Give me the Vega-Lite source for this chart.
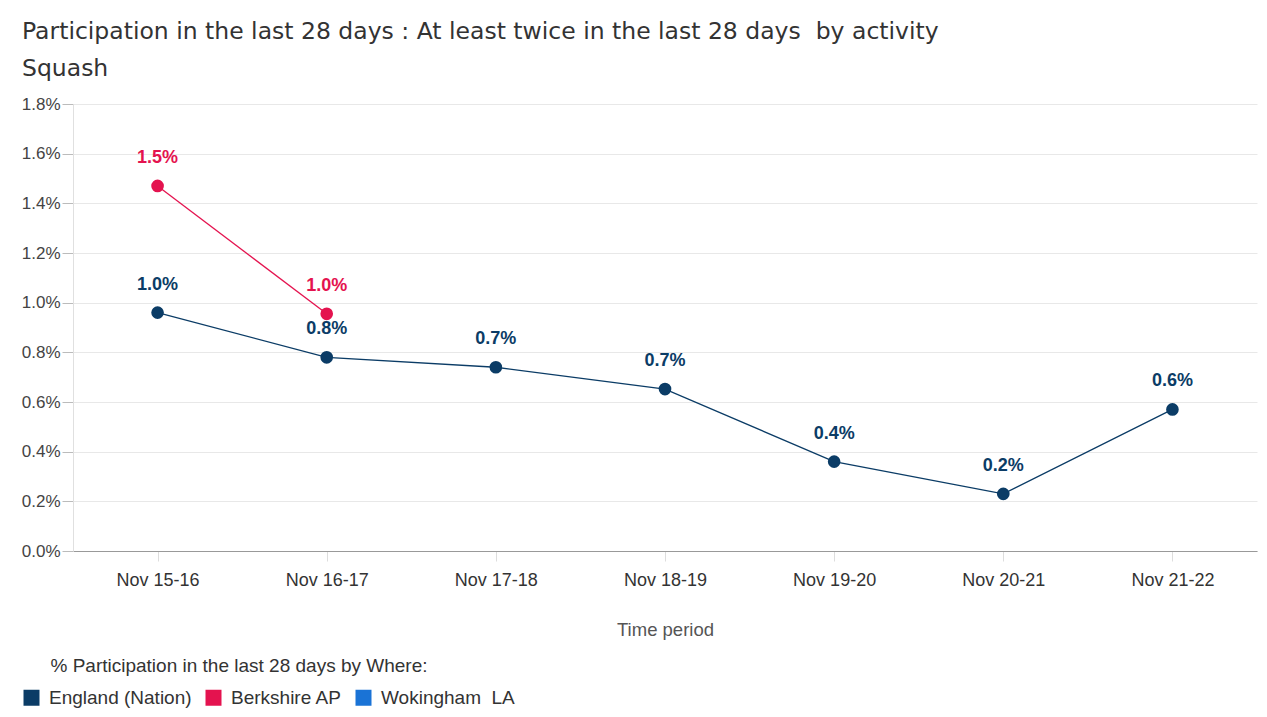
{
  "$schema": "https://vega.github.io/schema/vega-lite/v6.json",
  "autosize": {"type": "none"},
  "width": 1184,
  "height": 447,
  "padding": {"left": 73, "top": 104, "right": 10, "bottom": 166},
  "background": "white",
  "title": {
    "text": ["Participation in the last 28 days : At least twice in the last 28 days \u00a0by activity", "Squash"],
    "anchor": "start",
    "frame": "group",
    "dx": -51,
    "offset": 15,
    "font": "DejaVu Sans",
    "fontSize": 23.5,
    "fontWeight": "normal",
    "color": "#333333",
    "lineHeight": 37,
    "limit": 1200
  },
  "data": {
    "values": [
      {"period": "Nov 15-16", "where": "England (Nation)", "value": 0.0096},
      {"period": "Nov 16-17", "where": "England (Nation)", "value": 0.0078},
      {"period": "Nov 17-18", "where": "England (Nation)", "value": 0.0074},
      {"period": "Nov 18-19", "where": "England (Nation)", "value": 0.00652},
      {"period": "Nov 19-20", "where": "England (Nation)", "value": 0.0036},
      {"period": "Nov 20-21", "where": "England (Nation)", "value": 0.0023},
      {"period": "Nov 21-22", "where": "England (Nation)", "value": 0.0057},
      {"period": "Nov 15-16", "where": "Berkshire AP", "value": 0.0147},
      {"period": "Nov 16-17", "where": "Berkshire AP", "value": 0.00955}
    ]
  },
  "encoding": {
    "x": {
      "field": "period",
      "type": "ordinal",
      "title": "Time period",
      "scale": {"type": "point", "padding": 0.5},
      "axis": {
        "labelAngle": 0,
        "labelFont": "Liberation Sans",
        "labelFontSize": 18,
        "labelColor": "#333333",
        "labelPadding": 10,
        "tickColor": "#dddddd",
        "tickSize": 10,
        "domainColor": "#999999",
        "titleFont": "Liberation Sans",
        "titleFontSize": 18.5,
        "titleFontWeight": "normal",
        "titleColor": "#555555",
        "titlePadding": 31,
        "grid": false
      }
    },
    "y": {
      "field": "value",
      "type": "quantitative",
      "title": null,
      "scale": {"domain": [0, 0.018]},
      "axis": {
        "format": ".1%",
        "values": [0, 0.002, 0.004, 0.006, 0.008, 0.01, 0.012, 0.014, 0.016, 0.018],
        "labelFont": "Liberation Sans",
        "labelFontSize": 17,
        "labelColor": "#444444",
        "labelPadding": 2,
        "tickColor": "#bbbbbb",
        "tickSize": 11,
        "gridColor": "#e8e8e8",
        "domainColor": "#e0e0e0"
      }
    },
    "color": {
      "field": "where",
      "type": "nominal",
      "scale": {
        "domain": ["England (Nation)", "Berkshire AP", "Wokingham  LA"],
        "range": ["#0b3c66", "#e4134f", "#1a73d6"]
      },
      "legend": {
        "title": "\u200b\u2002\u2002\u2002% Participation in the last 28 days by Where:",
        "orient": "none",
        "legendX": -51,
        "legendY": 553,
        "direction": "horizontal",
        "columns": 3,
        "symbolType": "square",
        "symbolSize": 256,
        "symbolStrokeWidth": 0,
        "labelExpr": "replace(datum.label, '  ', '\u00a0 ')",
        "titleFont": "Liberation Sans",
        "titleFontSize": 19,
        "titleFontWeight": "normal",
        "titleColor": "#333333",
        "titlePadding": 12,
        "titleLimit": 700,
        "labelFont": "Liberation Sans",
        "labelFontSize": 19,
        "labelColor": "#333333",
        "labelOffset": 8,
        "labelLimit": 300,
        "columnPadding": 12
      }
    }
  },
  "layer": [
    {
      "mark": {"type": "line", "strokeWidth": 1.3}
    },
    {
      "mark": {"type": "point", "filled": true, "opacity": 1, "size": 160}
    },
    {
      "mark": {"type": "text", "dy": -28, "font": "Liberation Sans", "fontSize": 18, "fontWeight": "bold"},
      "encoding": {
        "text": {"field": "value", "type": "quantitative", "format": ".1%"}
      }
    }
  ],
  "config": {
    "view": {"stroke": null}
  }
}
